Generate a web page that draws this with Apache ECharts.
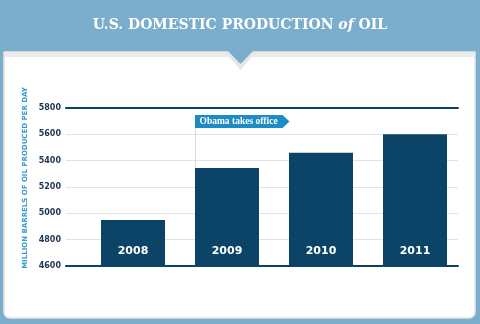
<!DOCTYPE html>
<html><head><meta charset="utf-8">
<script src="https://cdn.jsdelivr.net/npm/echarts@6/dist/echarts.min.js"></script>
<style>html,body{margin:0;padding:0;background:#7badcd}#c{width:480px;height:324px}</style>
</head><body><div id="c"></div>
<script>
const years = ['2008', '2009', '2010', '2011'];
const production = [4950, 5345, 5460, 5600];
const yTicks = [4600, 4800, 5000, 5200, 5400, 5600, 5800];
const titleParts = ['U.S. DOMESTIC PRODUCTION ', 'of', ' OIL'];
const yAxisName = 'MILLION BARRELS OF OIL PRODUCED PER DAY';
const annotationText = 'Obama takes office';
const annotationYear = '2009';

const navy = '#0b4467';
const chart = echarts.init(document.getElementById('c'), null, {renderer: 'canvas'});
const yMin = yTicks[0], yMax = yTicks[yTicks.length - 1], yStep = yTicks[1] - yTicks[0];

const option = {
  animation: false,
  backgroundColor: '#7badcd',
  grid: [
    {left: 66, right: 22, top: 108, height: 158},
    {left: 86, right: 18, top: 108, height: 158}
  ],
  xAxis: [
    {gridIndex: 0, type: 'category', data: years, position: 'bottom',
     axisLine: {lineStyle: {color: navy, width: 2}}, axisTick: {show: false}, axisLabel: {show: false}},
    {gridIndex: 0, type: 'category', data: years, position: 'top',
     axisLine: {lineStyle: {color: navy, width: 2}}, axisTick: {show: false}, axisLabel: {show: false}},
    {gridIndex: 1, type: 'category', data: years, show: false}
  ],
  yAxis: [
    {gridIndex: 0, type: 'value', min: yMin, max: yMax, interval: yStep,
     axisLine: {show: false}, axisTick: {show: false},
     axisLabel: {color: '#1c3550', fontFamily: 'DejaVu Sans', fontWeight: 'bold', fontSize: 8, margin: 5,
                 formatter: v => String(v)},
     splitLine: {lineStyle: {color: '#e2e2e2', width: 1}}},
    {gridIndex: 1, type: 'value', min: yMin, max: yMax, interval: yStep, show: false}
  ],
  series: [{
    type: 'bar', xAxisIndex: 2, yAxisIndex: 1, data: production, barWidth: 64,
    itemStyle: {color: navy},
    label: {show: true, position: 'insideBottom', distance: 9, formatter: p => p.name,
            color: '#fff', fontFamily: 'DejaVu Sans', fontWeight: 'bold', fontSize: 11}
  }]
};
chart.setOption(option);

const idx = years.indexOf(annotationYear);
const cx = chart.convertToPixel({xAxisIndex: 2}, annotationYear);
const lx = Math.round(cx - 32) + 0.5;
const barTop = chart.convertToPixel({yAxisIndex: 1}, production[idx]);

chart.setOption({
  graphic: [
    {type: 'rect', z: -10, shape: {x: 4, y: 52, width: 471, height: 266, r: [0, 0, 6, 6]},
     style: {fill: '#ffffff', stroke: '#e6e6e6', lineWidth: 1.5}},
    {type: 'rect', z: -9, shape: {x: 4, y: 52, width: 471, height: 5}, style: {fill: '#ebebeb'}},
    {type: 'polygon', z: -8, shape: {points: [[225, 52], [256, 52], [240.5, 70]]}, style: {fill: '#e6e6e6'}},
    {type: 'polygon', z: -7, shape: {points: [[228, 51], [253, 51], [240.5, 64]]}, style: {fill: '#7badcd'}},
    {type: 'text', left: 'center', top: 18, style: {
      text: '{a|' + titleParts[0] + '}{b|' + titleParts[1] + '}{a|' + titleParts[2] + '}',
      rich: {
        a: {fill: '#fff', font: 'bold 14px "DejaVu Serif"'},
        b: {fill: '#fff', font: 'italic bold 14px "DejaVu Serif"'}
      }}},
    {type: 'text', x: 25, y: 178, rotation: Math.PI / 2, style: {
      text: yAxisName, fill: '#3a9bcb', font: 'bold 7px "DejaVu Sans"', align: 'center', verticalAlign: 'middle'}},
    {type: 'line', z: 1, shape: {x1: lx, y1: 115, x2: lx, y2: barTop}, style: {stroke: '#dcdcdc', lineWidth: 1}},
    {type: 'polygon', z: 2, shape: {points: [[lx - 0.5, 115], [lx + 87, 115], [lx + 94, 121.5], [lx + 87, 128], [lx - 0.5, 128]]},
     style: {fill: '#1d8cc5'}},
    {type: 'text', z: 3, x: lx + 4, y: 121.5, style: {
      text: annotationText, fill: '#fff', font: 'bold 9.5px "Liberation Serif"', verticalAlign: 'middle'}}
  ]
});
</script></body></html>
